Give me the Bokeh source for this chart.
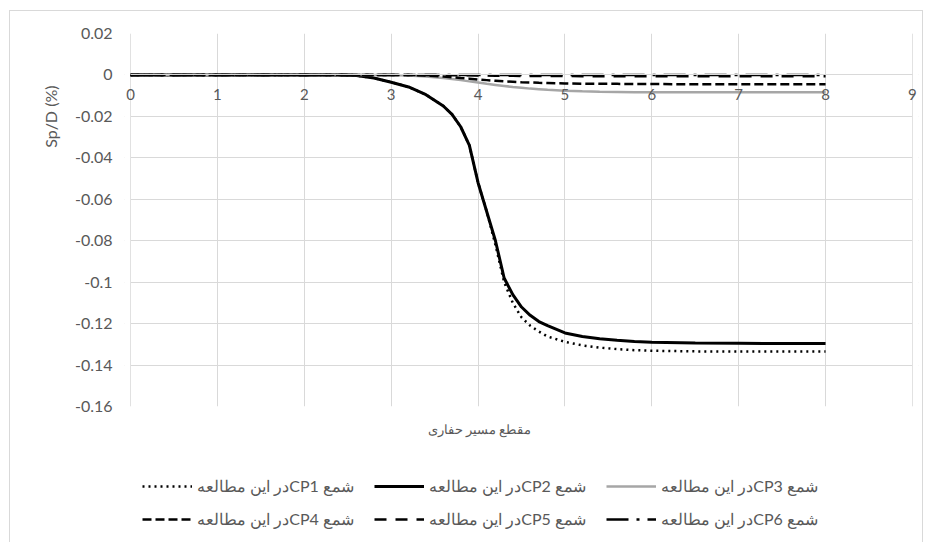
from bokeh.plotting import figure
from bokeh.models import FixedTicker, Title, Legend, LegendItem, BoxAnnotation
from bokeh.layouts import column
from bokeh.embed import file_html
from bokeh.resources import INLINE

# ---------------- data ----------------
x_vals = [0, 0.5, 1, 1.5, 2, 2.4, 2.6, 2.8, 3.0, 3.2, 3.4, 3.6, 3.7, 3.8, 3.9, 4.0, 4.1,
          4.2, 4.3, 4.4, 4.5, 4.6, 4.7, 4.8, 5.0, 5.2, 5.4, 5.6, 5.8, 6.0, 6.5, 7.0, 7.5, 8.0]

cp1 = [0, 0, 0, 0, 0, 0, -0.0003, -0.0015, -0.0035, -0.0058, -0.0095, -0.015, -0.019, -0.025,
       -0.034, -0.052, -0.066, -0.082, -0.100, -0.110, -0.117, -0.121, -0.1238, -0.1262,
       -0.1288, -0.1305, -0.1316, -0.1323, -0.1328, -0.1331, -0.1334, -0.1335, -0.1335, -0.1335]
cp2 = [0, 0, 0, 0, 0, 0, -0.0003, -0.0015, -0.0035, -0.0058, -0.0095, -0.015, -0.019, -0.025,
       -0.034, -0.052, -0.066, -0.080, -0.098, -0.106, -0.112, -0.116, -0.119, -0.121,
       -0.1245, -0.1262, -0.1273, -0.128, -0.1286, -0.129, -0.1294, -0.1295, -0.1296, -0.1296]
cp3 = [0, 0, 0, 0, 0, 0, 0, 0, 0, -0.0003, -0.0008, -0.0015, -0.002, -0.0025, -0.0031, -0.0037,
       -0.0043, -0.0048, -0.0053, -0.0058, -0.0062, -0.0066, -0.0069, -0.0072, -0.0076, -0.0079,
       -0.0081, -0.0082, -0.0083, -0.0083, -0.0084, -0.0084, -0.0084, -0.0084]
cp4 = [0, 0, 0, 0, 0, 0, 0, 0, 0, 0, -0.0003, -0.0008, -0.0011, -0.0015, -0.0018, -0.0022,
       -0.0025, -0.0028, -0.0031, -0.0033, -0.0035, -0.0036, -0.0038, -0.0039, -0.0041, -0.0042,
       -0.0043, -0.0043, -0.0044, -0.0044, -0.0045, -0.0045, -0.0045, -0.0045]
cp5 = [0, 0, 0, 0, 0, 0, 0, 0, 0, 0, 0, -0.0001, -0.0001, -0.0002, -0.0002, -0.0003, -0.0003,
       -0.0004, -0.0004, -0.0004, -0.0005, -0.0005, -0.0005, -0.0005, -0.0005, -0.0006, -0.0006,
       -0.0006, -0.0006, -0.0006, -0.0006, -0.0006, -0.0006, -0.0006]
cp6 = [0, 0, 0, 0, 0, 0, 0, 0, 0, 0, 0, 0, 0, 0, 0, 0, 0,
       0, 0, 0, 0, 0, 0, 0, 0, 0, 0, 0, 0, 0, 0, 0, 0, 0]

series_names = ["شمع CP1در این مطالعه", "شمع CP2در این مطالعه", "شمع CP3در این مطالعه",
                "شمع CP4در این مطالعه", "شمع CP5در این مطالعه", "شمع CP6در این مطالعه"]

x_ticks = [0, 1, 2, 3, 4, 5, 6, 7, 8, 9]
y_ticks = [0.02, 0, -0.02, -0.04, -0.06, -0.08, -0.1, -0.12, -0.14, -0.16]
y_tick_labels = ["0.02", "0", "-0.02", "-0.04", "-0.06", "-0.08", "-0.1", "-0.12", "-0.14", "-0.16"]

x_title = "مقطع مسیر حفاری"
y_title = "Sp/D (%)"

# ---------------- styles ----------------
styles = [
    dict(color="black", width=2.5, dash="2 4"),
    dict(color="black", width=3, dash="solid"),
    dict(color="#a6a6a6", width=2.5, dash="solid"),
    dict(color="black", width=2.5, dash="9 4"),
    dict(color="black", width=2.5, dash="12 9"),
    dict(color="black", width=2.5, dash="22 8 3 8"),
]
all_series = [cp1, cp2, cp3, cp4, cp5, cp6]

FONT = "Lato"
TXT = "#595959"
GRID = "#d9d9d9"
PAD = 0.07  # small room so the end tick labels of the crossing axis are not clipped

p = figure(width=912, height=438, x_range=(x_ticks[0] - PAD, x_ticks[-1] + PAD),
           y_range=(y_ticks[-1], y_ticks[0]),
           output_backend="svg", toolbar_location=None,
           min_border_left=114, min_border_right=4, min_border_top=22, min_border_bottom=43)
p.outline_line_color = None
p.background_fill_color = "white"
p.border_fill_color = "white"

# grid
p.xgrid.ticker = FixedTicker(ticks=x_ticks)
p.ygrid.ticker = FixedTicker(ticks=y_ticks)
p.xgrid.grid_line_color = GRID
p.ygrid.grid_line_color = GRID

# hide the grid overhang outside the 0..9 plot area
p.add_layout(BoxAnnotation(right=x_ticks[0] - 0.004, fill_color="white", fill_alpha=1,
                           line_color=None, level="underlay"))
p.add_layout(BoxAnnotation(left=x_ticks[-1] + 0.004, fill_color="white", fill_alpha=1,
                           line_color=None, level="underlay"))

# x axis crossing at y=0
p.xaxis.fixed_location = 0
p.xaxis.bounds = (x_ticks[0], x_ticks[-1])
p.xaxis.ticker = FixedTicker(ticks=x_ticks)
p.xaxis.axis_line_color = GRID
p.xaxis.major_tick_line_color = None
p.xaxis.minor_tick_line_color = None
p.xaxis.major_label_text_font = FONT
p.xaxis.major_label_text_font_size = "15px"
p.xaxis.major_label_text_color = TXT
p.xaxis.major_label_standoff = 8

# y axis
p.yaxis.ticker = FixedTicker(ticks=y_ticks)
p.yaxis.major_label_overrides = {t: l for t, l in zip(y_ticks, y_tick_labels)}
p.yaxis.axis_line_color = None
p.yaxis.major_tick_line_color = None
p.yaxis.minor_tick_line_color = None
p.yaxis.major_tick_out = 0
p.yaxis.major_label_standoff = 12
p.yaxis.major_label_text_font = FONT
p.yaxis.major_label_text_font_size = "16px"
p.yaxis.major_label_text_color = TXT

# lines
for ys, st in zip(all_series, styles):
    p.line(x_vals, ys, line_color=st["color"], line_width=st["width"], line_dash=st["dash"])

# titles
yt = Title(text=y_title, align="right", offset=52, text_font=FONT, text_font_size="16px",
           text_font_style="normal", text_color=TXT, standoff=24)
p.add_layout(yt, "left")
xt = Title(text=x_title, align="left", offset=303, text_font=FONT, text_font_size="13px",
           text_font_style="normal", text_color=TXT, standoff=25)
p.add_layout(xt, "below")

# ---------------- legend strip ----------------
# same series drawn out of view (y range above the data) so the legend keys get real glyphs
pl = figure(width=912, height=93, x_range=(0, 1), y_range=(1, 2),
            output_backend="svg", toolbar_location=None,
            min_border_left=0, min_border_right=0, min_border_top=0, min_border_bottom=0)
pl.axis.visible = False
pl.grid.visible = False
pl.outline_line_color = None
pl.background_fill_color = "white"
pl.border_fill_color = "white"

keys = []
for ys, st in zip(all_series, styles):
    keys.append(pl.line(x_vals, ys, line_color=st["color"], line_width=st["width"],
                        line_dash=st["dash"]))

legend = Legend(
    items=[LegendItem(label="\u202b" + n + "\u202c", renderers=[r]) for n, r in zip(series_names, keys)],
    orientation="horizontal", nrows=2, location=(18, 13),
    border_line_color=None, background_fill_alpha=0,
    glyph_width=50, glyph_height=20, label_height=20, label_width=164,
    label_standoff=5, spacing=13, padding=4, margin=0,
    label_text_font=FONT, label_text_font_size="16px", label_text_color=TXT,
)
pl.add_layout(legend, "center")

layout = column(p, pl, spacing=0,
                styles={"border": "1px solid #d9d9d9", "border-bottom": "none",
                        "margin-left": "9px", "margin-top": "10px"})

open("out.html", "w").write(file_html(layout, INLINE))
